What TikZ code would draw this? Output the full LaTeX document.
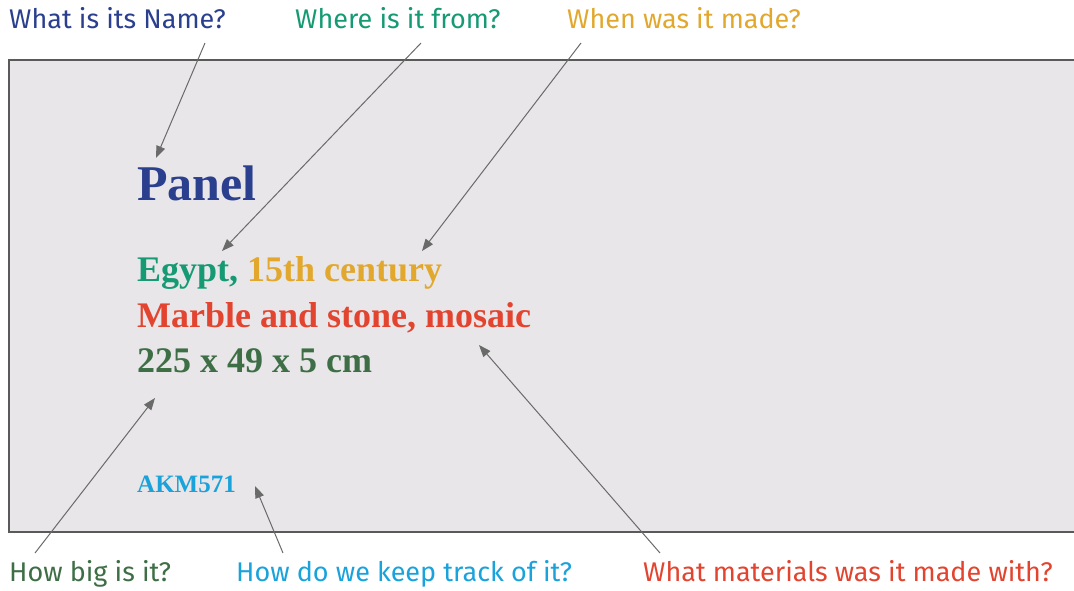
\documentclass[tikz,border=0pt]{standalone}
\usepackage{fontspec}
\setmainfont{Liberation Serif}
\newfontfamily\labelfont{Fira Sans}
\usetikzlibrary{arrows.meta}
\definecolor{cname}{HTML}{2B3F8F}
\definecolor{cwhere}{HTML}{159A74}
\definecolor{cwhen}{HTML}{E2A82E}
\definecolor{cmat}{HTML}{E2442F}
\definecolor{csize}{HTML}{3D6E45}
\definecolor{ctrack}{HTML}{1AA2DB}
\definecolor{panelbg}{HTML}{E8E6E8}
\definecolor{bordergray}{HTML}{5A5A5A}
\definecolor{arrowgray}{HTML}{6A6A6A}
\begin{document}
\begin{tikzpicture}[x=1pt,y=-1pt,
  question/.style={inner sep=0pt, anchor=base west, font=\labelfont\fontsize{27}{27}\selectfont},
  info/.style={inner sep=0pt, anchor=base west, font=\bfseries\fontsize{36}{36}\selectfont},
  pointer/.style={draw=arrowgray, line width=1pt, -{Triangle[length=12pt,width=9pt]}}]
\useasboundingbox (0,0) rectangle (1074,590);
\fill[panelbg] (9,60) rectangle (1074,532);
\draw[bordergray, line width=1.2pt] (1074,60) -- (9,60) -- (9,532) -- (1074,532);

% panel texts
\node[inner sep=0pt, anchor=base west, font=\bfseries\fontsize{50}{50}\selectfont, text=cname] (title) at (137,200) {Panel};
\node[info] (place) at (137,281) {\textcolor{cwhere}{Egypt,} \textcolor{cwhen}{15th century}};
\node[info, text=cmat] (mat) at (137,327) {Marble and stone, mosaic};
\node[info, text=csize] (dim) at (137,372) {225 x 49 x 5 cm};
\node[inner sep=0pt, anchor=base west, font=\bfseries\fontsize{25}{25}\selectfont, text=ctrack] (acc) at (137,492) {AKM571};

% questions
\node[question, text=cname] (qname) at (9,28) {What is its Name?};
\node[question, text=cwhere] (qwhere) at (295,28) {Where is it from?};
\node[question, text=cwhen] (qwhen) at (567,28) {When was it made?};
\node[question, text=csize] (qsize) at (9,581) {How big is it?};
\node[question, text=ctrack] (qtrack) at (236,581) {How do we keep track of it?};
\node[question, text=cmat] (qmat) at (643,581) {What materials was it made with?};

% pointer ends
\coordinate (sname) at (205,43);
\coordinate (ename) at (156,158);
\coordinate (swhere) at (421,43);
\coordinate (ewhere) at (222,251);
\coordinate (swhen) at (581,43);
\coordinate (ewhen) at (422,251);
\coordinate (smat) at (660,553);
\coordinate (emat) at (479,345);
\coordinate (ssize) at (35,553);
\coordinate (esize) at (155,398);
\coordinate (strack) at (283,553);
\coordinate (etrack) at (255,486);

\draw[pointer] (sname) -- (ename);
\draw[pointer] (swhere) -- (ewhere);
\draw[pointer] (swhen) -- (ewhen);
\draw[pointer] (smat) -- (emat);
\draw[pointer] (ssize) -- (esize);
\draw[pointer] (strack) -- (etrack);
\end{tikzpicture}
\end{document}
